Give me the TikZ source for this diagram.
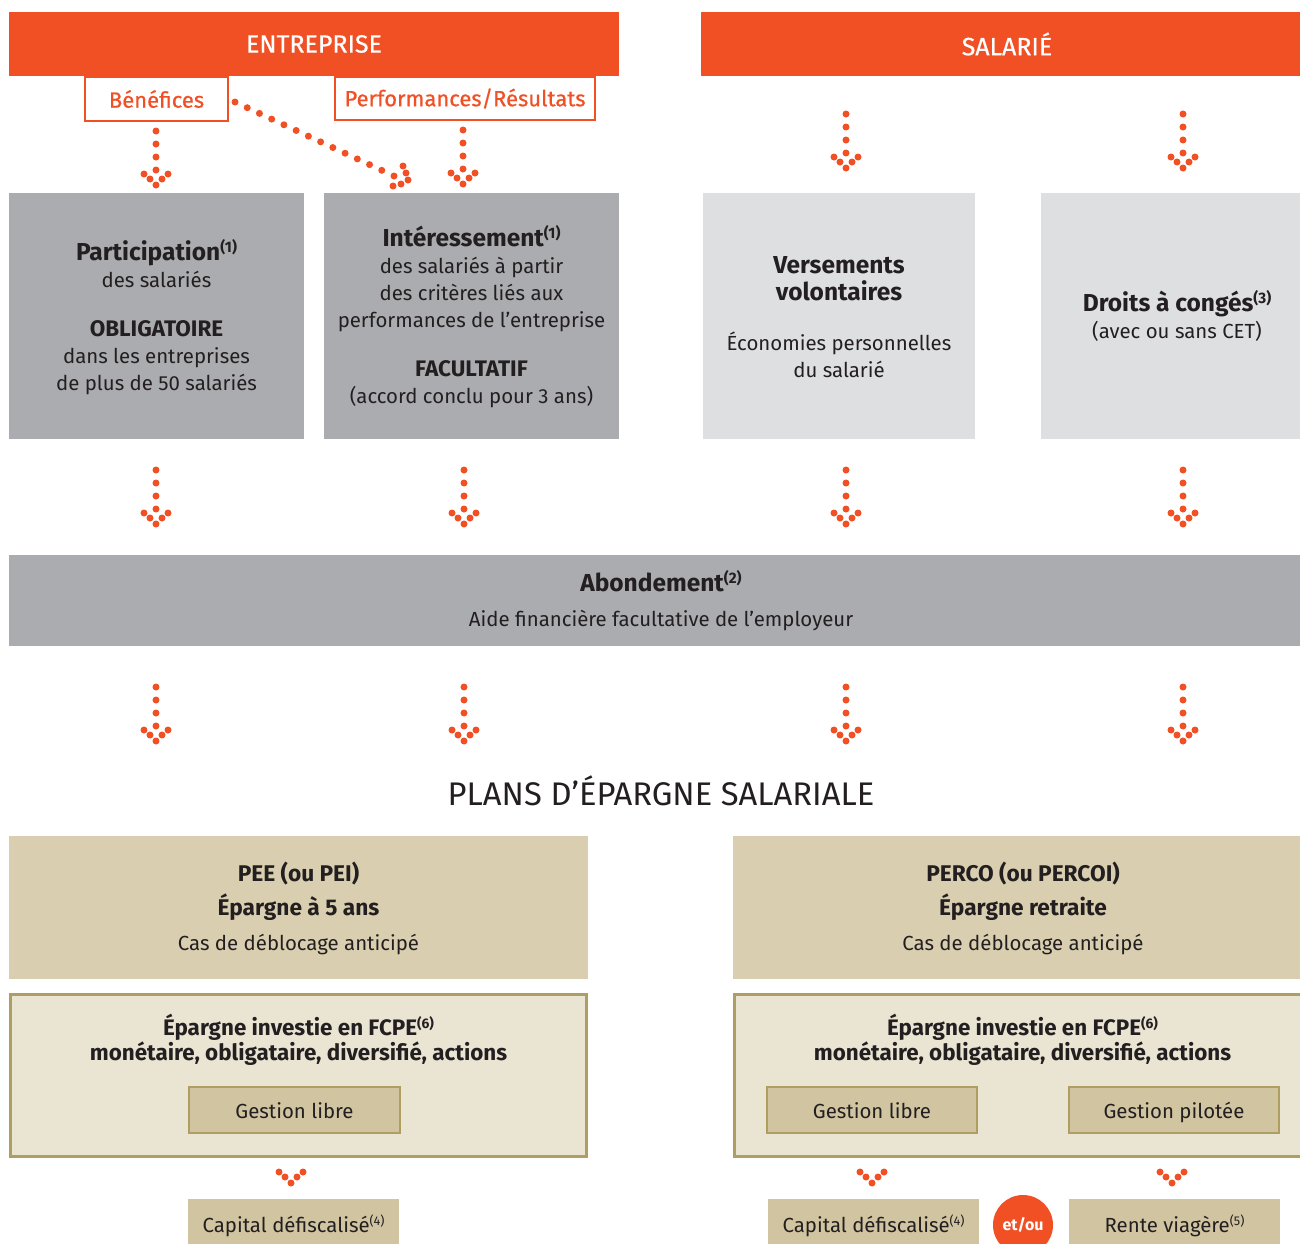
\documentclass[tikz,border=0pt]{standalone}
\usepackage{fontspec}
\setmainfont{Fira Sans}
\newfontfamily\medfont[FakeBold=0.6]{Fira Sans}
\usetikzlibrary{calc}
\definecolor{orng}{HTML}{F15025}
\definecolor{gdark}{HTML}{ABACB0}
\definecolor{glight}{HTML}{DEDFE1}
\definecolor{tan}{HTML}{D9CFB0}
\definecolor{cream}{HTML}{EAE4D3}
\definecolor{tanborder}{HTML}{AF9D62}
\definecolor{tanbox}{HTML}{D1C4A1}
\definecolor{txt}{HTML}{231F20}
\newcommand\supr[1]{\smash{\raisebox{0.62ex}{\scalebox{0.62}{(#1)}}}}
\newcommand\tstrut[1]{\rule{0pt}{#1pt}}
\newcommand\fs[2]{\fontsize{#1}{#2}\selectfont}
\newcommand\ttl{\bfseries\fs{24.5}{27}}
\newcommand\bbd{\bfseries\fs{22.5}{27}}
\newcommand\vhead[2]{\foreach \dx/\dy in {-12/4,-6/9,0/15,6/9,12/4} \fill[orng] (#1+\dx,#2+\dy) circle (3.5pt);}
\newcommand\varrow[2]{\foreach \k in {0,1,2,3} \fill[orng] (#1,#2+13*\k) circle (3.5pt); \vhead{#1}{#2+39}}
\begin{document}
\begin{tikzpicture}[x=1pt,y=-1pt,
  box/.style={anchor=north west, inner sep=0pt, outer sep=0pt, align=center, text=txt, font=\fs{20.4}{27}},
  head/.style={box, fill=orng, text=white, font=\medfont\fs{25}{28}},
  tag/.style={box, fill=white, draw=orng, line width=1.2pt, text=orng, font=\medfont\fs{22}{24}},
  tanb/.style={box, fill=tanbox, draw=tanborder, line width=1.5pt, text height=20pt, text depth=3.5pt},
  capb/.style={box, fill=tanbox, text height=18pt, text depth=3pt}]
\clip (0,0) rectangle (1300,1243);
\fill[white] (0,0) rectangle (1300,1243);

% headers
\node[head, minimum width=610pt, minimum height=64pt] (ent) at (9,12) {ENTREPRISE};
\node[head, minimum width=612pt, minimum height=64pt] (sal) at (701,12) {SALARIÉ};
\node[tag, minimum width=143pt, minimum height=44pt] (bene) at (85,77) {Bénéfices};
\node[tag, minimum width=260pt, minimum height=43pt] (perf) at (335,77) {Performances/Résultats};

% first row of boxes
\node[box, fill=gdark, minimum width=295pt, minimum height=246pt] (part) at (9,193)
  {{\ttl\tstrut{24}Participation\supr{1}}\\ des salariés\\[22pt]
   {\bbd OBLIGATOIRE}\\ dans les entreprises\\ de plus de 50 salariés};
\node[box, fill=gdark, minimum width=295pt, minimum height=246pt] (inte) at (324,193)
  {{\ttl\tstrut{22}Intéressement\supr{1}}\\ des salariés à partir\\ des critères liés aux\\ performances de l’entreprise\\[22pt]
   {\bbd FACULTATIF}\\ (accord conclu pour 3 ans)};
\node[box, fill=glight, minimum width=272pt, minimum height=246pt] (vers) at (703,193)
  {{\ttl\tstrut{20}Versements}\\ {\ttl volontaires}\\[23pt] Économies personnelles\\ du salarié};
\node[box, fill=glight, minimum width=272pt, minimum height=246pt] (droit) at (1041,193)
  {{\ttl\tstrut{20}Droits à congés\supr{3}}\\ (avec ou sans CET)};

% abondement
\node[box, fill=gdark, minimum width=1304pt, minimum height=91pt] (abon) at (9,555)
  {{\ttl\tstrut{22}Abondement\supr{2}}\\[8pt] Aide financière facultative de l’employeur};

% title
\node[text=txt, font=\fs{32.7}{36}, inner sep=0pt] (plans) at (661,791) {PLANS D’ÉPARGNE SALARIALE};

% plans
\node[box, fill=tan, minimum width=579pt, minimum height=143pt, font=\fs{20.4}{34.5}] (pee) at (9,836)
  {{\bfseries\fs{22.7}{34.5}\tstrut{21}PEE (ou PEI)}\\ {\bfseries\fs{22.7}{34.5}Épargne à 5 ans}\\ Cas de déblocage anticipé};
\node[box, fill=tan, minimum width=580pt, minimum height=143pt, font=\fs{20.4}{34.5}] (perco) at (733,836)
  {{\bfseries\fs{22.7}{34.5}\tstrut{21}PERCO (ou PERCOI)}\\ {\bfseries\fs{22.7}{34.5}Épargne retraite}\\ Cas de déblocage anticipé};

\node[box, fill=cream, draw=tanborder, line width=3pt, minimum width=576pt, minimum height=162pt] (epl) at (10.5,994.5) {};
\node[box, fill=cream, draw=tanborder, line width=3pt, minimum width=576pt, minimum height=162pt] (epr) at (734.5,994.5) {};
\node[text=txt, align=center, font=\bfseries\fs{22.4}{25}, inner sep=0pt] (eplt) at (298.5,1040)
  {Épargne investie en FCPE\supr{6}\\ monétaire, obligataire, diversifié, actions};
\node[text=txt, align=center, font=\bfseries\fs{22.4}{25}, inner sep=0pt] (eprt) at (1022.5,1040)
  {Épargne investie en FCPE\supr{6}\\ monétaire, obligataire, diversifié, actions};

\node[tanb, minimum width=211pt, minimum height=46pt] (gl1) at (189,1087) {Gestion libre};
\node[tanb, minimum width=210pt, minimum height=46pt] (gl2) at (767,1087) {Gestion libre};
\node[tanb, minimum width=210pt, minimum height=46pt] (gp) at (1069,1087) {Gestion pilotée};

\node[capb, minimum width=211pt, minimum height=51pt] (cap1) at (188,1199) {Capital défiscalisé\supr{4}};
\node[capb, minimum width=211pt, minimum height=51pt] (cap2) at (768,1199) {Capital défiscalisé\supr{4}};
\node[capb, minimum width=211pt, minimum height=51pt] (rente) at (1069,1199) {Rente viagère\supr{5}};
\node[circle, fill=orng, minimum size=60pt, inner sep=0pt, text=white, font=\bfseries\fs{16}{18}] (etou) at (1023,1225) {et/ou};

% dotted arrows
\varrow{156}{131}
\varrow{463}{130}
\varrow{846}{114}
\varrow{1183}{114}
\foreach \x in {156,464,846,1183} {\varrow{\x}{470} \varrow{\x}{687}}
\vhead{291}{1168}
\vhead{872}{1168}
\vhead{1172}{1168}

% diagonal Bénéfices -> Intéressement
\coordinate (b1) at ($(bene.east)+(7,3)$);
\coordinate (b2) at (394,176);
\foreach \k in {0,...,13} \fill[orng] ($(b1)!\k/13!(b2)$) circle (3.5pt);
\foreach \p in {(403,166),(406,173),(408,180),(401,184),(393,186)} \fill[orng] \p circle (3.5pt);
\end{tikzpicture}
\end{document}
